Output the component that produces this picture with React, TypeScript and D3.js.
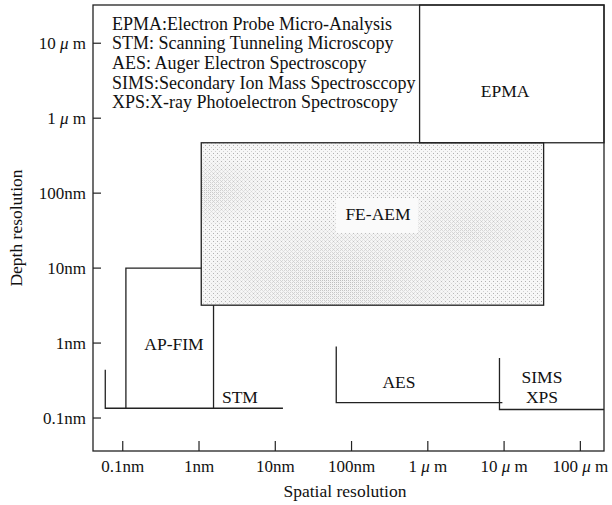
import React from "react";
import * as d3 from "d3";

const W = 612;
const H = 505;

// tick values (metres) and labels
const xTickValues = [1e-10, 1e-9, 1e-8, 1e-7, 1e-6, 1e-5, 1e-4];
const xTickLabels = ["0.1nm", "1nm", "10nm", "100nm", "1 μ m", "10 μ m", "100 μ m"];
const yTickValues = [1e-5, 1e-6, 1e-7, 1e-8, 1e-9, 1e-10];
const yTickLabels = ["10 μ m", "1 μ m", "100nm", "10nm", "1nm", "0.1nm"];

const legendLines = [
  "EPMA:Electron Probe Micro-Analysis",
  "STM: Scanning Tunneling Microscopy",
  "AES: Auger Electron Spectroscopy",
  "SIMS:Secondary Ion Mass Spectrosccopy",
  "XPS:X-ray Photoelectron Spectroscopy",
];

// rectangles: [x0, x1, y0, y1] in metres
const epmaRect = [7.8e-7, 10 ** -3.69, 4.7e-7, 10 ** -4.49];
const feAemRect = [1.07e-9, 3.3e-5, 3.2e-9, 4.7e-7];

// open outlines (x, y) in metres
const apFimLeft: [number, number][] = [[1.1e-10, 1.35e-10], [1.1e-10, 1e-8], [1.07e-9, 1e-8]];
const apFimRight: [number, number][] = [[1.55e-9, 3.2e-9], [1.55e-9, 1.35e-10]];
const stmLine: [number, number][] = [[5.9e-11, 4.4e-10], [5.9e-11, 1.35e-10], [1.26e-8, 1.35e-10]];
const aesLine: [number, number][] = [[6.3e-8, 9e-10], [6.3e-8, 1.6e-10], [9.5e-6, 1.6e-10]];
const simsLine: [number, number][] = [[8.7e-6, 6.3e-10], [8.7e-6, 1.3e-10], [10 ** -3.69, 1.3e-10]];

// labels: [text, x, y] (baseline position, metres)
const regionLabels: [string, number, number][] = [
  ["EPMA", 1.03e-5, 1.92e-6],
  ["FE-AEM", 2.22e-7, 4.39e-8],
  ["AP-FIM", 4.7e-10, 8.1e-10],
  ["STM", 3.44e-9, 1.58e-10],
  ["AES", 4.19e-7, 2.52e-10],
  ["SIMS", 3.14e-5, 2.93e-10],
  ["XPS", 3.14e-5, 1.58e-10],
];

const serif = "'Liberation Serif', 'DejaVu Serif', serif";

function Mu({ text }: { text: string }) {
  const parts = text.split("μ");
  if (parts.length === 1) return <>{text}</>;
  return (
    <>
      {parts[0]}
      <tspan fontStyle="italic">μ</tspan>
      {parts[1]}
    </>
  );
}

export default function App() {
  const left = 93, right = 604, top = 5, bottom = 451;
  const x = d3.scaleLog().domain([10 ** -10.39, 10 ** -3.69]).range([left, right]);
  const y = d3.scaleLog().domain([10 ** -10.44, 10 ** -4.49]).range([bottom, top]);
  const line = d3.line<[number, number]>().x((d) => x(d[0])).y((d) => y(d[1]));

  const rect = (r: number[]) => ({
    x: x(r[0]),
    y: y(r[3]),
    width: x(r[1]) - x(r[0]),
    height: y(r[2]) - y(r[3]),
  });
  const fe = rect(feAemRect);
  const ep = rect(epmaRect);

  return (
    <svg width={W} height={H} style={{ display: "block", position: "absolute", left: 0, top: 0 }} fontFamily={serif}>
      <defs>
        <pattern id="stipLight" width="4" height="4" patternUnits="userSpaceOnUse">
          <rect width="4" height="4" fill="#f7f7f7" />
          <rect x="1" y="1" width="1" height="1" fill="#b0b0b0" />
          <rect x="3" y="3" width="1" height="1" fill="#d0d0d0" />
        </pattern>
        <pattern id="stipDark" width="2" height="2" patternUnits="userSpaceOnUse">
          <rect width="2" height="2" fill="#f2f2f2" />
          <rect x="0" y="0" width="1" height="1" fill="#b0b0b0" />
        </pattern>
        <radialGradient id="g1" cx="0.4" cy="0.85" r="0.4">
          <stop offset="0" stopColor="#fff" stopOpacity={0.85} />
          <stop offset="1" stopColor="#fff" stopOpacity={0} />
        </radialGradient>
        <radialGradient id="g2" cx="0.0" cy="0.3" r="0.22">
          <stop offset="0" stopColor="#fff" stopOpacity={0.75} />
          <stop offset="1" stopColor="#fff" stopOpacity={0} />
        </radialGradient>
        <radialGradient id="g3" cx="0.78" cy="0.55" r="0.28">
          <stop offset="0" stopColor="#fff" stopOpacity={0.55} />
          <stop offset="1" stopColor="#fff" stopOpacity={0} />
        </radialGradient>
        <mask id="denseMask" maskUnits="userSpaceOnUse" x={0} y={0} width={W} height={H}>
          <rect {...fe} fill="url(#g1)" />
          <rect {...fe} fill="url(#g2)" />
          <rect {...fe} fill="url(#g3)" />
        </mask>
      </defs>
      <rect width={W} height={H} fill="#fff" />
      {/* FE-AEM */}
      <rect {...fe} fill="url(#stipLight)" />
      <rect {...fe} fill="url(#stipDark)" mask="url(#denseMask)" />
      <rect {...fe} fill="none" stroke="#222" strokeWidth={1.3} />
      {/* EPMA */}
      <rect {...ep} fill="none" stroke="#222" strokeWidth={1.3} />
      {/* outlines */}
      {[apFimLeft, apFimRight, stmLine, aesLine, simsLine].map((p, i) => (
        <path key={i} d={line(p) || ""} fill="none" stroke="#222" strokeWidth={1.3} />
      ))}
      {/* frame */}
      <rect x={left} y={top} width={right - left} height={bottom - top} fill="none" stroke="#222" strokeWidth={1.3} />
      {/* ticks */}
      {xTickValues.map((v, i) => (
        <g key={"x" + i}>
          <line x1={x(v)} x2={x(v)} y1={bottom} y2={bottom - 10} stroke="#222" strokeWidth={1.2} />
          <text x={x(v)} y={bottom + 21} fontSize={17} textAnchor="middle" fill="#111">
            <Mu text={xTickLabels[i]} />
          </text>
        </g>
      ))}
      {yTickValues.map((v, i) => (
        <g key={"y" + i}>
          <line x1={left} x2={left + 8} y1={y(v)} y2={y(v)} stroke="#222" strokeWidth={1.2} />
          <text x={left - 7} y={y(v) + 5.5} fontSize={17} textAnchor="end" fill="#111">
            <Mu text={yTickLabels[i]} />
          </text>
        </g>
      ))}
      {/* legend */}
      {legendLines.map((t, i) => (
        <text key={t} x={112} y={29.5 + i * 19.7} fontSize={18} fill="#111">
          {t}
        </text>
      ))}
      {/* region labels */}
      {regionLabels.map(([t, vx, vy]) => {
        const isFe = t === "FE-AEM";
        return (
          <g key={t}>
            {isFe && <rect x={x(vx) - 42} y={y(vy) - 22} width={82} height={35} fill="#fafafa" />}
            <text x={x(vx)} y={y(vy)} fontSize={17.5} textAnchor="middle" fill="#111">
              {t}
            </text>
          </g>
        );
      })}
      {/* axis titles */}
      <text x={345} y={497} fontSize={17.5} textAnchor="middle" fill="#111">
        Spatial resolution
      </text>
      <text transform={`translate(22,${228}) rotate(-90)`} fontSize={17.5} textAnchor="middle" fill="#111">
        Depth resolution
      </text>
    </svg>
  );
}
